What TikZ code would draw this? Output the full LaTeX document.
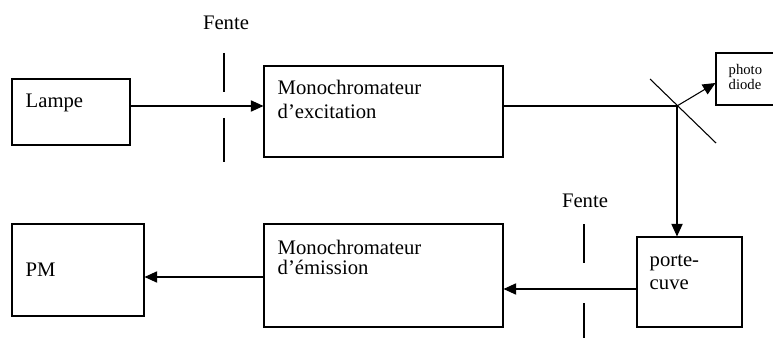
\documentclass[tikz,border=0pt]{standalone}
\usepackage{fontspec}
\setmainfont{Liberation Serif}
\usetikzlibrary{arrows.meta}

\tikzset{
  bloc/.style={draw, line width=0.8pt, inner sep=0pt},
  taille/.style 2 args={minimum width=#1*0.75pt, minimum height=#2*0.75pt},
  txt/.style={inner sep=0pt, anchor=base west, align=left, font=\fontsize{15.5}{18}\selectfont},
  petit/.style={txt, font=\fontsize{11}{11.3}\selectfont},
  faisceau/.style={line width=0.8pt, -{Triangle[length=9.5pt, width=8.5pt]}},
  trait/.style={line width=0.8pt},
}

\begin{document}
\begin{tikzpicture}[x=0.75pt, y=-0.75pt]
  \clip (0,0) rectangle (773,338);
  % blocs
  \node[bloc, taille={118}{66}] (lampe) at (71,112) {};
  \node[bloc, taille={239}{91}] (monoex) at (383.5,111.5) {};
  \node[bloc, taille={74}{52}] (pd) at (753,79) {};
  \node[bloc, taille={132}{92}] (pm) at (78,270) {};
  \node[bloc, taille={239}{103}] (monoem) at (383.5,275.5) {};
  \node[bloc, taille={105}{90}] (cuve) at (689.5,282) {};
  % textes (base = derniere ligne)
  \node[txt] (lampe-t) at ([shift={(14,29)}]lampe.north west) {Lampe};
  \node[txt] (monoex-t) at ([shift={(14,53)}]monoex.north west) {Monochromateur\\d'excitation};
  \node[petit] (pd-t) at ([shift={(13,37)}]pd.north west) {photo\\diode};
  \node[txt] (pm-t) at ([shift={(14,53)}]pm.north west) {PM};
  \node[txt, font=\fontsize{15.5}{15}\selectfont] (monoem-t) at ([shift={(14,51)}]monoem.north west) {Monochromateur\\d'émission};
  \node[txt, font=\fontsize{15.5}{17.3}\selectfont] (cuve-t) at ([shift={(13,53)}]cuve.north west) {porte-\\cuve};
  \node[txt, anchor=base] (fente1) at (226,30) {Fente};
  \node[txt, anchor=base] (fente2) at (585,207) {Fente};
  % fentes
  \draw[trait] (224,53) -- (224,92) (224,118) -- (224,162);
  \draw[trait] (584,224) -- (584,263) (584,303) -- (584,340);
  % faisceau
  \coordinate (miroir) at (677,106);
  \draw[faisceau] (lampe.east |- 0,106) -- (monoex.west |- 0,106);
  \draw[trait] (monoex.east |- miroir) -- (miroir);
  \draw[trait] ([shift={(-27,-27)}]miroir) -- ([shift={(39,37)}]miroir);
  \draw[faisceau] (miroir) -- (pd.west |- 0,83);
  \draw[faisceau] (miroir) -- (miroir |- cuve.north);
  \draw[faisceau] (cuve.west |- 0,289) -- (monoem.east |- 0,289);
  \draw[faisceau] (monoem.west |- 0,277) -- (pm.east |- 0,277);
\end{tikzpicture}
\end{document}
